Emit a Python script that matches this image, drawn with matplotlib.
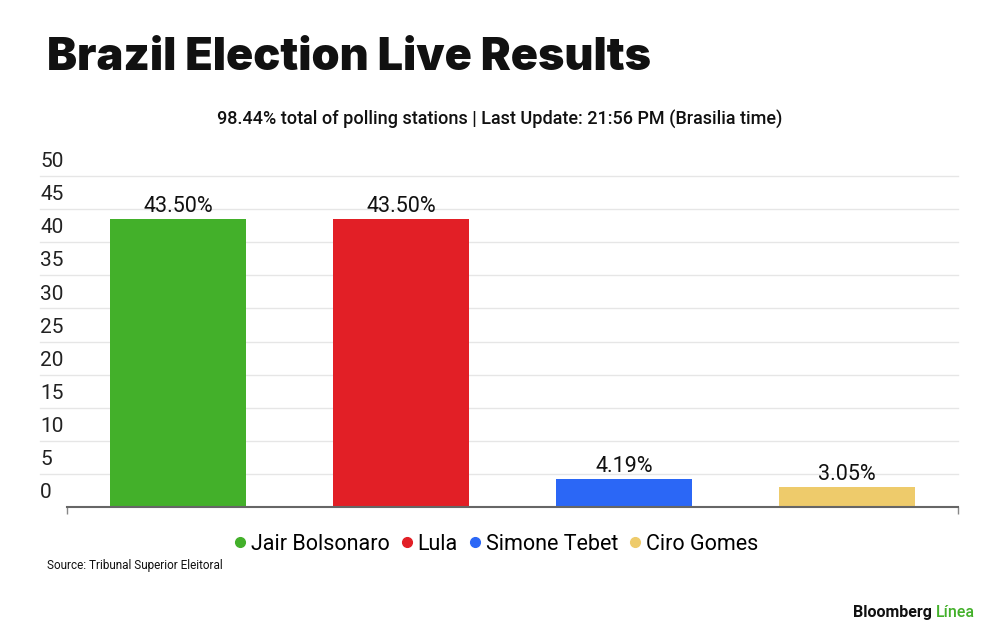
import matplotlib
matplotlib.use('Agg')
from matplotlib import pyplot as plt
from matplotlib.lines import Line2D

plt.rcParams['font.family'] = ['Roboto', 'DejaVu Sans']

candidates = ['Jair Bolsonaro', 'Lula', 'Simone Tebet', 'Ciro Gomes']
votes = [43.50, 43.50, 4.19, 3.05]
vote_labels = ['43.50%', '43.50%', '4.19%', '3.05%']
colors = ['#43b02a', '#e21f26', '#2b67f6', '#eecb6b']
y_ticks = [0, 5, 10, 15, 20, 25, 30, 35, 40, 45, 50]

fig = plt.figure(figsize=(10, 6.33), dpi=100)
ax = fig.add_axes([0.067, 0.199, 0.891, 0.523])

x = list(range(len(candidates)))
bars = ax.bar(x, votes, width=0.61, color=colors, zorder=3)
ax.set_xlim(-0.5, 3.5)
ax.set_ylim(0, 50)

# grid lines, extended left under the labels
for t in y_ticks[1:]:
    ax.axhline(t, xmin=-0.03, xmax=1, color='#e6e6e6', lw=1, clip_on=False, zorder=1)
for t in y_ticks:
    ax.annotate(str(t), xy=(-0.03, t), xycoords=ax.get_yaxis_transform(),
                xytext=(0, 3.5), textcoords='offset points',
                ha='left', va='bottom', fontsize=15, color='#222222')

ax.set_yticks([])
ax.set_xticks([])
ax.set_xticks([-0.5, 3.5], minor=True)
ax.tick_params(axis='x', which='minor', length=5, color='#888888', width=1)
ax.set_xticklabels([], minor=True)
for s in ['top', 'left', 'right']:
    ax.spines[s].set_visible(False)
ax.spines['bottom'].set_color('#666666')
ax.spines['bottom'].set_linewidth(1.5)
ax.spines['bottom'].set_zorder(4)

for b, lab in zip(bars, vote_labels):
    ax.annotate(lab, xy=(b.get_x() + b.get_width() / 2, b.get_height()),
                xytext=(0, 1.5), textcoords='offset points',
                ha='center', va='bottom', fontsize=15.5, color='#111111')

handles = [Line2D([], [], marker='o', ls='', color=c, markersize=7) for c in colors]
ax.legend(handles, candidates, loc='upper center', bbox_to_anchor=(0.479, -0.055),
          ncol=4, frameon=False, fontsize=15.5, handletextpad=0.0,
          columnspacing=0.3, handlelength=1.0, borderaxespad=0)

fig.text(0.047, 0.889, 'Brazil Election Live Results', fontsize=32.3,
         fontweight='black', family=['Inter', 'DejaVu Sans'], ha='left', va='baseline',
         color='#111111')
fig.text(0.5, 0.803, '98.44% total of polling stations | Last Update: 21:56 PM (Brasilia time)',
         fontsize=13, fontweight='medium', ha='center', va='baseline', color='#111111')
fig.text(0.047, 0.101, 'Source: Tribunal Superior Eleitoral', fontsize=8.5,
         ha='left', va='baseline', color='#111111')
fig.text(0.932, 0.025, 'Bloomberg', fontsize=11.5, fontweight='bold',
         ha='right', va='baseline', color='#111111')
fig.text(0.936, 0.025, 'Línea', fontsize=11.5, fontweight='medium',
         ha='left', va='baseline', color='#43b02a')

fig.savefig('out.png', dpi=100, facecolor='white')
